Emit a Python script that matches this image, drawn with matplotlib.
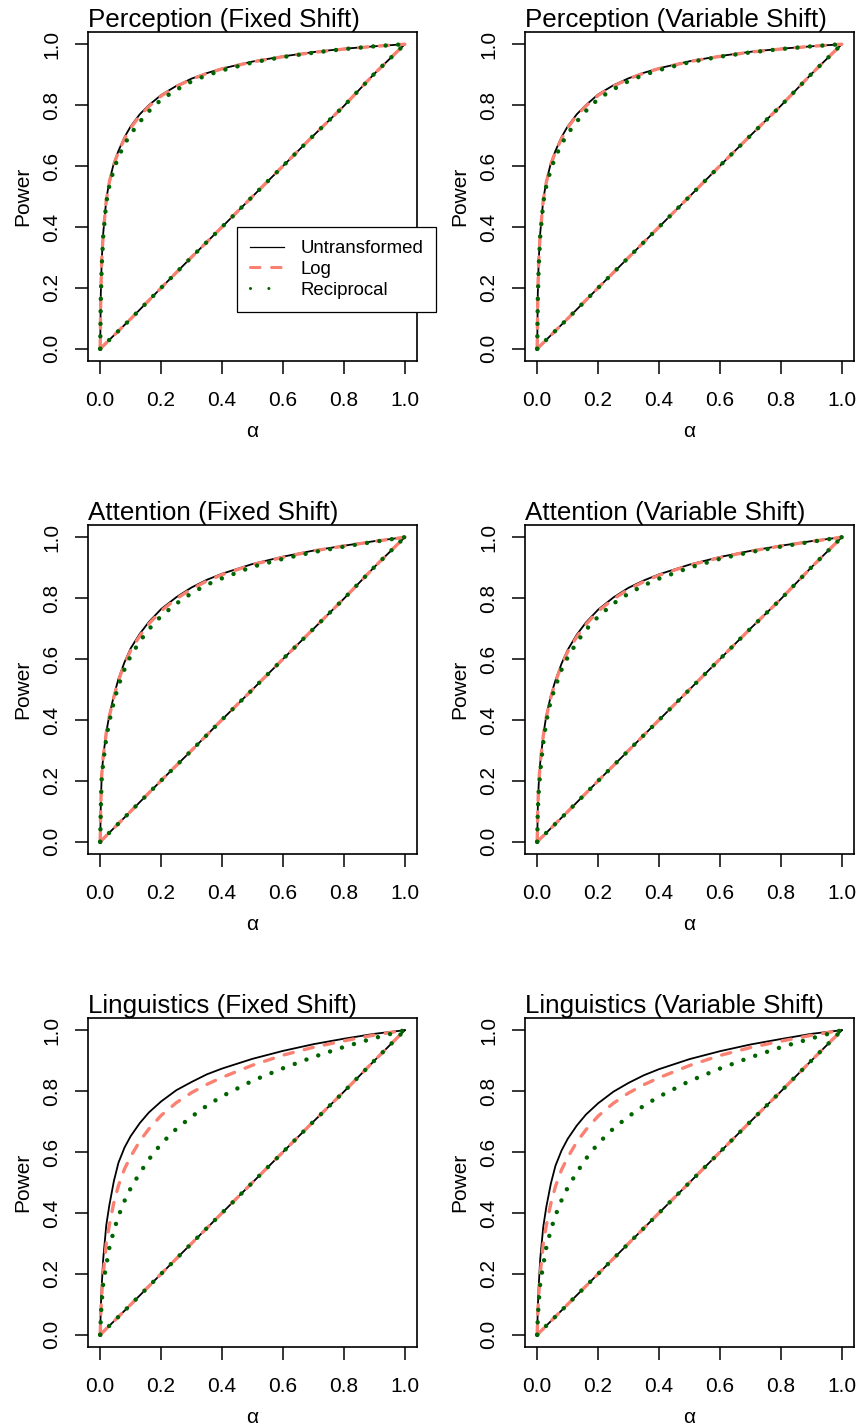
import matplotlib
matplotlib.use('Agg')
import matplotlib.pyplot as plt
from matplotlib.lines import Line2D

plt.rcParams['font.family'] = ['Liberation Sans', 'DejaVu Sans']

# alpha grid for the power curves
alpha = [0, 0.002, 0.005, 0.01, 0.02, 0.03, 0.045, 0.06, 0.08, 0.1, 0.13, 0.16,
         0.2, 0.25, 0.3, 0.35, 0.4, 0.5, 0.6, 0.7, 0.8, 0.9, 1.0]

# power under the alternative (upper curves)
perc_fixed_untr = [0, 0.18, 0.29, 0.38, 0.49, 0.55, 0.61, 0.65, 0.695, 0.73, 0.77, 0.80,
                   0.833, 0.863, 0.887, 0.905, 0.92, 0.943, 0.96, 0.974, 0.985, 0.993, 1.0]
perc_fixed_log = [0, 0.18, 0.29, 0.38, 0.488, 0.547, 0.606, 0.646, 0.69, 0.725, 0.765, 0.796,
                  0.83, 0.861, 0.885, 0.904, 0.919, 0.942, 0.959, 0.973, 0.984, 0.993, 1.0]
perc_fixed_rec = [0, 0.16, 0.27, 0.37, 0.48, 0.535, 0.59, 0.63, 0.672, 0.705, 0.745, 0.78,
                  0.818, 0.85, 0.878, 0.898, 0.914, 0.94, 0.958, 0.972, 0.984, 0.993, 1.0]

perc_var_untr = [0, 0.18, 0.29, 0.38, 0.49, 0.55, 0.61, 0.65, 0.695, 0.73, 0.77, 0.80,
                 0.835, 0.865, 0.888, 0.906, 0.921, 0.944, 0.961, 0.975, 0.985, 0.993, 1.0]
perc_var_log = [0, 0.18, 0.29, 0.38, 0.488, 0.547, 0.606, 0.646, 0.69, 0.726, 0.766, 0.797,
                0.832, 0.862, 0.886, 0.905, 0.92, 0.943, 0.96, 0.974, 0.984, 0.993, 1.0]
perc_var_rec = [0, 0.16, 0.27, 0.37, 0.48, 0.535, 0.59, 0.63, 0.672, 0.706, 0.746, 0.781,
                0.82, 0.852, 0.879, 0.899, 0.915, 0.941, 0.959, 0.973, 0.984, 0.993, 1.0]

att_fixed_untr = [0, 0.12, 0.22, 0.28, 0.36, 0.415, 0.48, 0.535, 0.59, 0.635, 0.683, 0.722,
                  0.764, 0.803, 0.835, 0.86, 0.88, 0.912, 0.936, 0.956, 0.972, 0.987, 1.0]
att_fixed_log = [0, 0.12, 0.22, 0.28, 0.358, 0.412, 0.476, 0.53, 0.584, 0.628, 0.676, 0.716,
                 0.758, 0.798, 0.83, 0.856, 0.877, 0.91, 0.934, 0.955, 0.971, 0.986, 1.0]
att_fixed_rec = [0, 0.11, 0.21, 0.26, 0.34, 0.395, 0.46, 0.513, 0.567, 0.61, 0.658, 0.698,
                 0.741, 0.782, 0.816, 0.844, 0.865, 0.903, 0.929, 0.951, 0.969, 0.985, 1.0]

att_var_untr = [0, 0.11, 0.19, 0.26, 0.35, 0.415, 0.48, 0.53, 0.585, 0.63, 0.68, 0.72,
                0.762, 0.802, 0.834, 0.858, 0.878, 0.91, 0.935, 0.955, 0.972, 0.987, 1.0]
att_var_log = [0, 0.11, 0.19, 0.26, 0.348, 0.41, 0.475, 0.525, 0.58, 0.624, 0.673, 0.714,
               0.757, 0.797, 0.829, 0.854, 0.875, 0.908, 0.933, 0.954, 0.971, 0.986, 1.0]
att_var_rec = [0, 0.10, 0.164, 0.23, 0.325, 0.395, 0.465, 0.51, 0.565, 0.605, 0.655, 0.696,
               0.739, 0.782, 0.815, 0.842, 0.864, 0.9, 0.929, 0.951, 0.969, 0.985, 1.0]

ling_fixed_untr = [0, 0.09, 0.16, 0.25, 0.36, 0.425, 0.505, 0.565, 0.615, 0.652, 0.695, 0.73,
                   0.766, 0.803, 0.83, 0.855, 0.874, 0.906, 0.932, 0.954, 0.972, 0.988, 1.0]
ling_fixed_log = [0, 0.07, 0.13, 0.2, 0.3, 0.36, 0.435, 0.49, 0.545, 0.585, 0.636, 0.676,
                  0.72, 0.762, 0.795, 0.822, 0.845, 0.885, 0.918, 0.944, 0.965, 0.984, 1.0]
ling_fixed_rec = [0, 0.054, 0.107, 0.168, 0.228, 0.285, 0.343, 0.39, 0.44, 0.481, 0.531, 0.576,
                  0.627, 0.676, 0.716, 0.752, 0.783, 0.834, 0.875, 0.912, 0.945, 0.974, 1.0]

ling_var_untr = [0, 0.09, 0.16, 0.25, 0.355, 0.42, 0.497, 0.555, 0.605, 0.643, 0.687, 0.723,
                 0.76, 0.798, 0.827, 0.852, 0.872, 0.905, 0.931, 0.953, 0.971, 0.988, 1.0]
ling_var_log = [0, 0.07, 0.13, 0.2, 0.3, 0.36, 0.432, 0.487, 0.542, 0.582, 0.633, 0.673,
                0.718, 0.76, 0.794, 0.821, 0.844, 0.884, 0.917, 0.943, 0.964, 0.983, 1.0]
ling_var_rec = [0, 0.054, 0.107, 0.168, 0.23, 0.287, 0.345, 0.392, 0.442, 0.483, 0.533, 0.578,
                0.628, 0.677, 0.717, 0.752, 0.782, 0.833, 0.874, 0.911, 0.944, 0.973, 1.0]

# size under the null (near-diagonal lines)
alpha_null = [0, 0.1, 0.2, 0.3, 0.4, 0.5, 0.6, 0.7, 0.8, 0.9, 1.0]
perc_fixed_null = [0, 0.098, 0.2, 0.301, 0.4, 0.5, 0.6, 0.7, 0.797, 0.903, 1.0]
perc_var_null = [0, 0.099, 0.2, 0.3, 0.4, 0.5, 0.601, 0.7, 0.798, 0.902, 1.0]
att_fixed_null = [0, 0.1, 0.201, 0.3, 0.401, 0.5, 0.6, 0.699, 0.798, 0.902, 1.0]
att_var_null = [0, 0.099, 0.2, 0.3, 0.4, 0.5, 0.6, 0.7, 0.797, 0.901, 1.0]
ling_fixed_null = [0, 0.099, 0.2, 0.3, 0.4, 0.5, 0.6, 0.7, 0.798, 0.9, 1.0]
ling_var_null = [0, 0.1, 0.2, 0.3, 0.4, 0.5, 0.6, 0.7, 0.799, 0.9, 1.0]

titles = ['Perception (Fixed Shift)', 'Perception (Variable Shift)',
          'Attention (Fixed Shift)', 'Attention (Variable Shift)',
          'Linguistics (Fixed Shift)', 'Linguistics (Variable Shift)']
panels = [
    (perc_fixed_untr, perc_fixed_log, perc_fixed_rec, perc_fixed_null),
    (perc_var_untr, perc_var_log, perc_var_rec, perc_var_null),
    (att_fixed_untr, att_fixed_log, att_fixed_rec, att_fixed_null),
    (att_var_untr, att_var_log, att_var_rec, att_var_null),
    (ling_fixed_untr, ling_fixed_log, ling_fixed_rec, ling_fixed_null),
    (ling_var_untr, ling_var_log, ling_var_rec, ling_var_null),
]
labels = ['Untransformed', 'Log', 'Reciprocal']
ticks = [0.0, 0.2, 0.4, 0.6, 0.8, 1.0]
tick_labels = ['0.0', '0.2', '0.4', '0.6', '0.8', '1.0']

SALMON = '#FA8072'
GREEN = '#006400'

W, H = 862, 1427
fig = plt.figure(figsize=(W / 100, H / 100), dpi=100)

col_left = [88, 525]
row_top = [32, 525, 1018]
box = 329

for i, (untr, logt, rec, null) in enumerate(panels):
    r, c = divmod(i, 2)
    ax = fig.add_axes([col_left[c] / W, 1 - (row_top[r] + box) / H, box / W, box / H])

    # untransformed
    ax.plot(alpha, untr, color='black', lw=1.3)
    ax.plot(alpha_null, null, color='black', lw=1.3)
    # log
    for y, x in [(logt, alpha), (null, alpha_null)]:
        ax.plot(x, y, color=SALMON, lw=2.4, dashes=(2.8, 3.4),
                dash_capstyle='round')
    # reciprocal
    for y, x in [(rec, alpha), (null, alpha_null)]:
        ax.plot(x, y, color=GREEN, lw=3.2, dashes=(0.01, 2.8),
                dash_capstyle='round')

    ax.set_xlim(-0.04, 1.04)
    ax.set_ylim(-0.04, 1.04)
    ax.set_xticks(ticks)
    ax.set_xticklabels(tick_labels)
    ax.set_yticks(ticks)
    ax.set_yticklabels(tick_labels, rotation=90, va='center')
    ax.tick_params(axis='both', length=9.4, width=1.1, labelsize=15, direction='out')
    ax.tick_params(axis='x', pad=12)
    ax.tick_params(axis='y', pad=10)
    for s in ax.spines.values():
        s.set_linewidth(1.2)

    ax.set_title(titles[i], loc='left', fontsize=18.7, pad=3.6)
    ax.set_xlabel('α', fontsize=15, labelpad=9)
    ax.set_ylabel('Power', fontsize=15, labelpad=7)

    if i == 0:
        handles = [
            Line2D([], [], color='black', lw=0.9),
            Line2D([], [], color=SALMON, lw=2.2, dashes=(3.1, 3.8), dash_capstyle='round'),
            Line2D([], [], color=GREEN, lw=2.2, dashes=(0.01, 6.0), dash_capstyle='round'),
        ]
        leg = ax.legend(handles, labels, loc='upper left',
                        bbox_to_anchor=(237 / W, 1 - 227 / H),
                        bbox_transform=fig.transFigure,
                        fontsize=13.4, frameon=True, fancybox=False,
                        edgecolor='black', framealpha=1, borderpad=0.7,
                        borderaxespad=0, handlelength=1.8, handletextpad=0.9,
                        labelspacing=0.2)
        leg.get_frame().set_linewidth(0.9)
        leg.set_clip_on(False)

fig.savefig('out.png', dpi=100, facecolor='white')
